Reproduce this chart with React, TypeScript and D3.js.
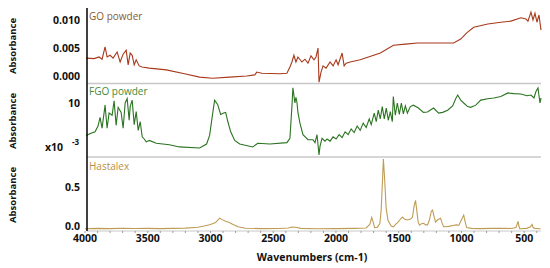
import React from "react";
import * as d3 from "d3";

// spectra: [wavenumber cm-1, absorbance]
const goSpectrum: [number, number][] = [
  [3992, 0.0032], [3928, 0.0031], [3888, 0.0034], [3864, 0.003], [3840, 0.0052], [3824, 0.0034],
  [3800, 0.0037], [3776, 0.0032], [3744, 0.0043], [3720, 0.0025], [3696, 0.0039], [3672, 0.0046],
  [3656, 0.002], [3640, 0.0041], [3624, 0.0037], [3608, 0.002], [3592, 0.0029], [3568, 0.0018],
  [3544, 0.0016], [3488, 0.0014], [3352, 0.0011], [3207, 0.0004], [3087, -0.0002], [2983, -0.0004],
  [2847, -0.0002], [2711, 0.0], [2647, 0.0002], [2631, 0.0007], [2591, 0.0005], [2447, 0.0004],
  [2391, 0.0005], [2367, 0.0016], [2351, 0.0025], [2335, 0.0037], [2319, 0.0025], [2303, 0.0034],
  [2271, 0.0025], [2247, 0.003], [2223, 0.0023], [2199, 0.0036], [2175, 0.0029], [2159, 0.0034],
  [2143, 0.005], [2135, -0.0011], [2119, 0.0007], [2103, 0.0018], [2079, 0.0014], [2047, 0.0025],
  [2023, 0.0018], [1999, 0.0029], [1983, 0.002], [1951, 0.0041], [1935, 0.0018], [1919, 0.0023],
  [1887, 0.0025], [1807, 0.0029], [1646, 0.0041], [1542, 0.0055], [1446, 0.0057], [1350, 0.0059],
  [1166, 0.0059], [1062, 0.0059], [1006, 0.0066], [958, 0.0077], [902, 0.0087], [790, 0.0093],
  [686, 0.0096], [606, 0.0098], [526, 0.0104], [486, 0.0102], [470, 0.0098], [446, 0.0114],
  [430, 0.01], [414, 0.0112], [398, 0.0096], [382, 0.0109], [366, 0.0082],
];

// FGO in units of 1e-3
const fgoSpectrum: [number, number][] = [
  [3992, 5.5], [3952, 5.8], [3920, 6.0], [3896, 6.8], [3880, 8.0], [3864, 6.5], [3840, 9.7],
  [3824, 6.5], [3808, 8.6], [3784, 8.3], [3768, 10.3], [3752, 6.9], [3736, 9.4], [3712, 8.7],
  [3696, 6.5], [3680, 10.0], [3664, 10.6], [3648, 7.6], [3640, 9.5], [3624, 10.4], [3608, 7.0],
  [3592, 8.8], [3576, 6.2], [3560, 7.4], [3544, 5.3], [3528, 5.0], [3512, 4.6], [3488, 4.8],
  [3432, 4.4], [3328, 4.2], [3248, 3.9], [3087, 3.75], [3031, 4.3], [3007, 5.5], [2983, 8.5],
  [2967, 10.4], [2943, 9.8], [2919, 8.4], [2895, 8.6], [2879, 8.7], [2863, 7.5], [2839, 6.0],
  [2807, 4.8], [2767, 4.3], [2663, 3.9], [2623, 4.4], [2527, 4.3], [2391, 4.5], [2367, 5.1],
  [2351, 9.5], [2343, 12.1], [2327, 10.0], [2319, 10.8], [2311, 10.1], [2303, 8.7], [2287, 7.2],
  [2263, 5.6], [2223, 4.9], [2183, 4.9], [2167, 4.5], [2151, 5.6], [2135, 2.8], [2127, 4.0],
  [2111, 5.1], [2087, 4.7], [2071, 5.0], [2047, 4.7], [2023, 5.3], [1999, 5.0], [1975, 5.6],
  [1951, 5.2], [1927, 6.0], [1903, 5.6], [1879, 6.4], [1855, 5.9], [1831, 6.8], [1807, 6.2],
  [1783, 7.2], [1759, 6.6], [1735, 7.8], [1719, 7.0], [1695, 8.6], [1679, 7.4], [1663, 9.0],
  [1647, 7.8], [1631, 9.5], [1615, 7.8], [1599, 9.3], [1583, 7.6], [1567, 8.8], [1551, 7.4],
  [1543, 10.9], [1527, 8.3], [1511, 10.0], [1495, 8.4], [1479, 10.0], [1463, 8.5], [1447, 9.6],
  [1431, 8.6], [1407, 9.5], [1383, 9.7], [1343, 9.3], [1303, 8.7], [1271, 8.75], [1222, 9.3],
  [1182, 8.6], [1150, 8.7], [1110, 9.0], [1070, 9.6], [1046, 10.6], [1030, 11.1], [1006, 10.4],
  [982, 10.0], [950, 9.5], [926, 9.4], [886, 9.7], [846, 10.4], [790, 10.6], [742, 10.7],
  [686, 10.9], [630, 11.4], [582, 11.3], [526, 11.25], [478, 11.0], [446, 11.1], [422, 10.7],
  [406, 11.6], [390, 12.1], [382, 11.0], [374, 10.0], [366, 10.7],
];

const hastalexSpectrum: [number, number][] = [
  [4000, -0.035], [3900, -0.03], [3800, -0.033], [3700, -0.028], [3600, -0.032], [3500, -0.03],
  [3400, -0.033], [3300, -0.03], [3200, -0.027], [3100, -0.015], [3050, 0.0], [3000, 0.02],
  [2960, 0.045], [2940, 0.08], [2927, 0.1], [2910, 0.085], [2880, 0.06], [2850, 0.045],
  [2820, 0.02], [2780, -0.01], [2720, -0.028], [2600, -0.033], [2450, -0.032], [2380, -0.025],
  [2350, -0.012], [2320, -0.015], [2280, -0.03], [2150, -0.035], [2000, -0.033], [1850, -0.03],
  [1760, -0.025], [1730, 0.02], [1715, 0.11], [1705, 0.06], [1692, -0.02], [1670, -0.015],
  [1650, 0.03], [1640, 0.2], [1630, 0.55], [1622, 0.86], [1612, 0.6], [1600, 0.23], [1585, 0.07],
  [1560, 0.0], [1542, -0.01], [1525, 0.02], [1505, 0.05], [1485, 0.09], [1470, 0.115],
  [1455, 0.09], [1430, 0.077], [1405, 0.09], [1390, 0.115], [1378, 0.25], [1366, 0.33],
  [1356, 0.2], [1345, 0.05], [1334, 0.01], [1318, 0.03], [1302, 0.035], [1285, 0.015],
  [1270, 0.015], [1255, 0.08], [1240, 0.19], [1230, 0.205], [1218, 0.12], [1206, 0.05],
  [1190, 0.08], [1166, 0.1], [1155, 0.04], [1142, -0.01], [1100, -0.005], [1060, 0.01],
  [1040, 0.015], [1020, 0.01], [1000, 0.08], [982, 0.14], [970, 0.05], [958, -0.02], [920, -0.03],
  [850, -0.033], [760, -0.03], [700, -0.03], [650, -0.03], [600, -0.032], [565, -0.02],
  [555, 0.03], [549, 0.06], [542, 0.0], [535, -0.035], [480, -0.03], [450, -0.01], [437, 0.02],
  [428, -0.02], [415, -0.03], [380, -0.035], [370, -0.033],
];

const xTicks = [4000, 3500, 3000, 2500, 2000, 1500, 1000, 500];
const goTicks = [0, 0.005, 0.01];
const fgoTicks = [10];
const hastalexTicks = [0, 0.5];

const font = "'Open Sans', 'DejaVu Sans', sans-serif";

export default function App() {
  const width = 550,
    height = 268;
  const left = 87,
    right = 541,
    bottom = 231;

  const x = d3.scaleLinear().domain([4000, 366]).range([85, right]);

  const panels = [
    {
      name: "GO powder",
      data: goSpectrum,
      y: d3.scaleLinear().domain([-0.00125, 0.01268]).range([83, 5]),
      ticks: goTicks,
      fmt: d3.format(".3f"),
      line: "#a8391c",
      label: "#8a5a34",
      labelY: 20,
      titleY: 46,
    },
    {
      name: "FGO powder",
      data: fgoSpectrum,
      y: d3.scaleLinear().domain([2.5, 12.5]).range([157, 85]),
      ticks: fgoTicks,
      fmt: d3.format("d"),
      line: "#2a7420",
      label: "#3f8a3a",
      labelY: 95,
      titleY: 121,
    },
    {
      name: "Hastalex",
      data: hastalexSpectrum,
      y: d3.scaleLinear().domain([-0.064, 0.885]).range([bottom, 157]),
      ticks: hastalexTicks,
      fmt: d3.format(".1f"),
      line: "#bf9c55",
      label: "#b98f45",
      labelY: 170,
      titleY: 195,
    },
  ];

  const minor = d3.range(4000, 366, -100);

  return (
    <svg
      width={width}
      height={height}
      style={{ position: "absolute", left: 0, top: 0, background: "#fff" }}
      fontFamily={font}
    >
      {/* panel separators */}
      <line x1={left} x2={right} y1={83.5} y2={83.5} stroke="#c8c8c8" strokeWidth={1.5} />
      <line x1={left} x2={right} y1={157} y2={157} stroke="#c8c8c8" strokeWidth={1.5} />
      <line x1={left} x2={right} y1={bottom} y2={bottom} stroke="#c8c8c8" strokeWidth={1} />

      {panels.map((p) => {
        const line = d3
          .line<[number, number]>()
          .x((d) => x(d[0]))
          .y((d) => p.y(d[1]));
        return (
          <g key={p.name}>
            <path d={line(p.data) || ""} fill="none" stroke={p.line} strokeWidth={1.1} />
            <text x={89} y={p.labelY} fontSize={10} fill={p.label}>
              {p.name}
            </text>
            {p.ticks.map((t) => (
              <text
                key={t}
                x={80}
                y={p.y(t)}
                dy="0.35em"
                textAnchor="end"
                fontSize={10.5}
                fontWeight="bold"
                fill="#111"
              >
                {p.fmt(t)}
              </text>
            ))}
            <text
              transform={`translate(16,${p.titleY}) rotate(-90)`}
              textAnchor="middle"
              fontSize={9.5}
              fontWeight="bold"
              fill="#111"
            >
              Absorbance
            </text>
          </g>
        );
      })}

      {/* x10^-3 multiplier for FGO */}
      <text x={45} y={151} fontSize={10.5} fontWeight="bold" fill="#111">
        x10
      </text>
      <text x={72} y={145} fontSize={8} fontWeight="bold" fill="#111">
        -3
      </text>

      {/* left axis */}
      <line x1={left} x2={left} y1={8} y2={bottom} stroke="#000" strokeWidth={1.5} />

      {/* x axis ticks */}
      {minor.map((m) => (
        <line key={m} x1={x(m)} x2={x(m)} y1={bottom} y2={bottom + 2} stroke="#888" strokeWidth={0.8} />
      ))}
      {xTicks.map((t) => (
        <text
          key={t}
          x={x(t)}
          y={242}
          textAnchor="middle"
          fontSize={10.5}
          fontWeight="bold"
          fill="#111"
        >
          {t}
        </text>
      ))}
      <text x={312} y={261} textAnchor="middle" fontSize={10.5} fontWeight="bold" fill="#111">
        Wavenumbers (cm-1)
      </text>
    </svg>
  );
}
